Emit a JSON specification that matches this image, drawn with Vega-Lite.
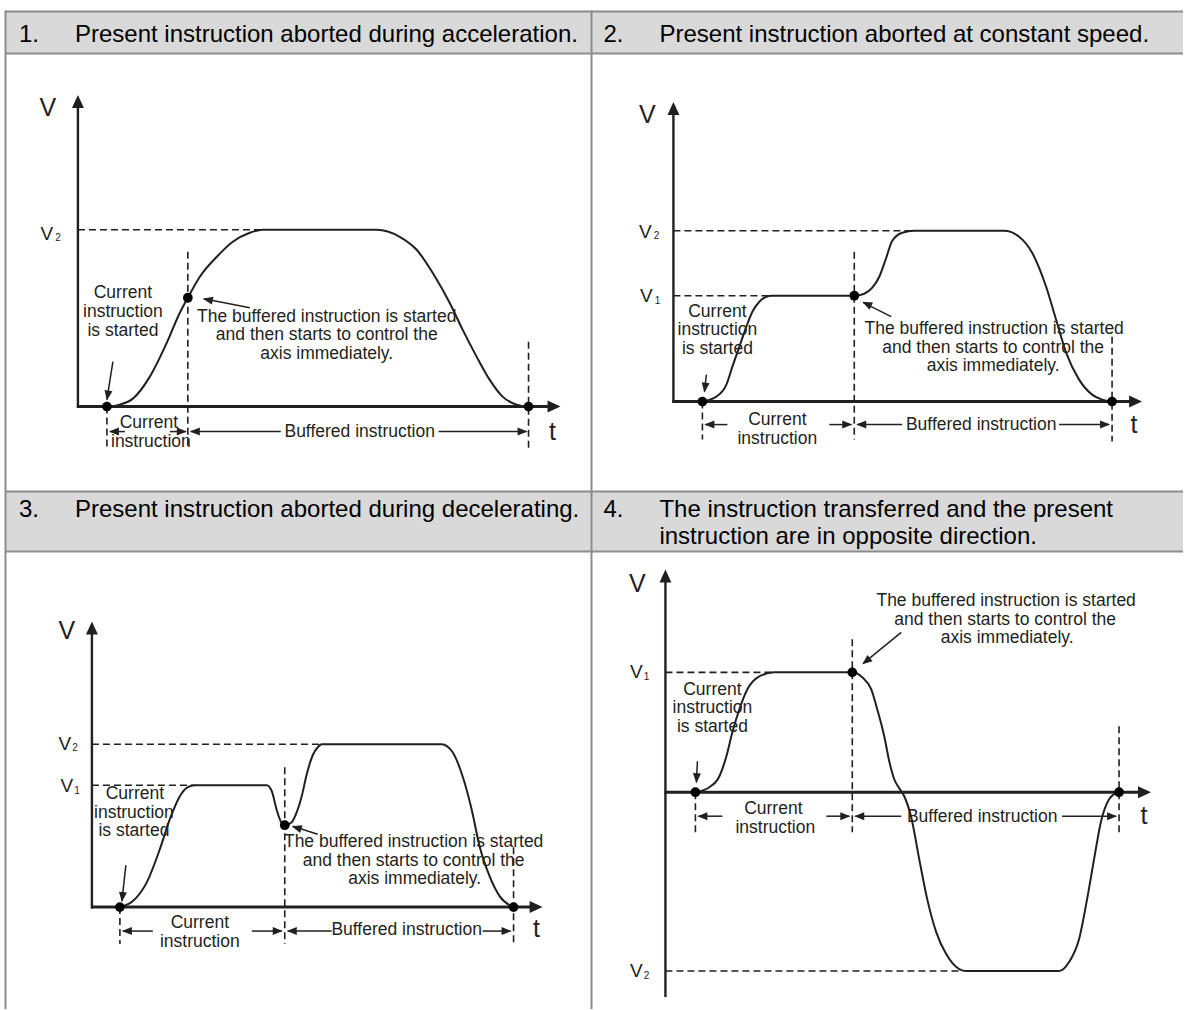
{
  "$schema": "https://vega.github.io/schema/vega-lite/v6.json",
  "width": 1184,
  "height": 1010,
  "autosize": {"type": "fit", "contains": "padding"},
  "padding": 0,
  "background": "white",
  "config": {"view": {"stroke": null}, "axis": {"disable": true}, "legend": {"disable": true}},
  "datasets": {
    "cellFill": [
      {"x": 6, "x2": 592, "y": 11.5, "y2": 53.5},
      {"x": 592, "x2": 1184, "y": 11.5, "y2": 53.5},
      {"x": 6, "x2": 592, "y": 492, "y2": 552},
      {"x": 592, "x2": 1184, "y": 492, "y2": 552}
    ],
    "gridLines": [
      {"x": 5, "x2": 1184, "y": 11.5, "y2": 11.5},
      {"x": 5, "x2": 1184, "y": 53.5, "y2": 53.5},
      {"x": 5, "x2": 1184, "y": 492, "y2": 492},
      {"x": 5, "x2": 1184, "y": 552, "y2": 552},
      {"x": 5.5, "x2": 5.5, "y": 10.5, "y2": 1010},
      {"x": 592, "x2": 592, "y": 10.5, "y2": 1010}
    ],
    "headers": [
      {"x": 19, "y": 42, "label": "1."},
      {"x": 75, "y": 42, "label": "Present instruction aborted during acceleration."},
      {"x": 604, "y": 42, "label": "2."},
      {"x": 660, "y": 42, "label": "Present instruction aborted at constant speed."},
      {"x": 19, "y": 518, "label": "3."},
      {"x": 75, "y": 518, "label": "Present instruction aborted during decelerating."},
      {"x": 604, "y": 518, "label": "4."},
      {"x": 660, "y": 518, "label": "The instruction transferred and the present"},
      {"x": 660, "y": 545, "label": "instruction are in opposite direction."}
    ],
    "dashes": [
      {"x": 78, "x2": 263, "y": 230, "y2": 230},
      {"x": 107, "x2": 107, "y": 407, "y2": 450},
      {"x": 188, "x2": 188, "y": 252, "y2": 450},
      {"x": 529, "x2": 529, "y": 342, "y2": 450},
      {"x": 674, "x2": 915, "y": 231, "y2": 231},
      {"x": 674, "x2": 772, "y": 296, "y2": 296},
      {"x": 703, "x2": 703, "y": 402, "y2": 440},
      {"x": 855, "x2": 855, "y": 252, "y2": 440},
      {"x": 1113, "x2": 1113, "y": 337, "y2": 442},
      {"x": 92, "x2": 322, "y": 745, "y2": 745},
      {"x": 92, "x2": 195, "y": 786, "y2": 786},
      {"x": 120, "x2": 120, "y": 908, "y2": 945},
      {"x": 285, "x2": 285, "y": 768, "y2": 945},
      {"x": 514, "x2": 514, "y": 848, "y2": 945},
      {"x": 666, "x2": 775, "y": 673, "y2": 673},
      {"x": 666, "x2": 960, "y": 972, "y2": 972},
      {"x": 696, "x2": 696, "y": 793, "y2": 833},
      {"x": 853, "x2": 853, "y": 640, "y2": 833},
      {"x": 1120, "x2": 1120, "y": 727, "y2": 833}
    ],
    "vAxes": [
      {"x": 78, "x2": 78, "y": 104, "y2": 408.5},
      {"x": 674, "x2": 674, "y": 111, "y2": 403.5},
      {"x": 92, "x2": 92, "y": 631, "y2": 909.5},
      {"x": 666, "x2": 666, "y": 579, "y2": 998}
    ],
    "tAxes": [
      {"x": 77, "x2": 550, "y": 407, "y2": 407},
      {"x": 673, "x2": 1132, "y": 402, "y2": 402},
      {"x": 91, "x2": 532, "y": 908, "y2": 908},
      {"x": 665, "x2": 1141, "y": 793, "y2": 793}
    ],
    "thin": [
      {"x": 110, "x2": 125, "y": 432, "y2": 432},
      {"x": 170, "x2": 186, "y": 432, "y2": 432},
      {"x": 191, "x2": 281, "y": 432, "y2": 432},
      {"x": 439, "x2": 527, "y": 432, "y2": 432},
      {"x": 113, "x2": 107, "y": 362, "y2": 400},
      {"x": 250, "x2": 204, "y": 308, "y2": 299},
      {"x": 706, "x2": 728, "y": 425, "y2": 425},
      {"x": 830, "x2": 852, "y": 425, "y2": 425},
      {"x": 858, "x2": 903, "y": 425, "y2": 425},
      {"x": 1060, "x2": 1110, "y": 425, "y2": 425},
      {"x": 707, "x2": 705, "y": 375, "y2": 392},
      {"x": 892, "x2": 864, "y": 317, "y2": 303},
      {"x": 123, "x2": 153, "y": 932, "y2": 932},
      {"x": 252, "x2": 282, "y": 932, "y2": 932},
      {"x": 288, "x2": 332, "y": 932, "y2": 932},
      {"x": 483, "x2": 511, "y": 932, "y2": 932},
      {"x": 126, "x2": 122, "y": 866, "y2": 902},
      {"x": 318, "x2": 293, "y": 835, "y2": 827},
      {"x": 699, "x2": 723, "y": 817, "y2": 817},
      {"x": 827, "x2": 850, "y": 817, "y2": 817},
      {"x": 856, "x2": 902, "y": 817, "y2": 817},
      {"x": 1063, "x2": 1117, "y": 817, "y2": 817},
      {"x": 698, "x2": 697, "y": 762, "y2": 783},
      {"x": 902, "x2": 864, "y": 633, "y2": 664}
    ],
    "curves": [
      {"id": "p1", "x": 107, "y": 407}, {"id": "p1", "x": 120, "y": 405}, {"id": "p1", "x": 133, "y": 399},
      {"id": "p1", "x": 150, "y": 377}, {"id": "p1", "x": 167, "y": 343}, {"id": "p1", "x": 180, "y": 313},
      {"id": "p1", "x": 188, "y": 298}, {"id": "p1", "x": 200, "y": 277}, {"id": "p1", "x": 217, "y": 257},
      {"id": "p1", "x": 233, "y": 242}, {"id": "p1", "x": 250, "y": 233}, {"id": "p1", "x": 263, "y": 230},
      {"id": "p1", "x": 377, "y": 230}, {"id": "p1", "x": 400, "y": 237}, {"id": "p1", "x": 417, "y": 250},
      {"id": "p1", "x": 433, "y": 273}, {"id": "p1", "x": 450, "y": 303}, {"id": "p1", "x": 463, "y": 330},
      {"id": "p1", "x": 477, "y": 357}, {"id": "p1", "x": 490, "y": 380}, {"id": "p1", "x": 503, "y": 397},
      {"id": "p1", "x": 517, "y": 405}, {"id": "p1", "x": 529, "y": 407},
      {"id": "p2", "x": 703, "y": 402}, {"id": "p2", "x": 717, "y": 397}, {"id": "p2", "x": 727, "y": 385},
      {"id": "p2", "x": 733, "y": 367}, {"id": "p2", "x": 740, "y": 347}, {"id": "p2", "x": 747, "y": 327},
      {"id": "p2", "x": 753, "y": 312}, {"id": "p2", "x": 760, "y": 302}, {"id": "p2", "x": 767, "y": 297},
      {"id": "p2", "x": 772, "y": 296}, {"id": "p2", "x": 855, "y": 296}, {"id": "p2", "x": 865, "y": 294},
      {"id": "p2", "x": 873, "y": 288}, {"id": "p2", "x": 880, "y": 277}, {"id": "p2", "x": 887, "y": 258},
      {"id": "p2", "x": 893, "y": 241}, {"id": "p2", "x": 903, "y": 233}, {"id": "p2", "x": 915, "y": 231},
      {"id": "p2", "x": 1005, "y": 231}, {"id": "p2", "x": 1020, "y": 237}, {"id": "p2", "x": 1033, "y": 253},
      {"id": "p2", "x": 1047, "y": 287}, {"id": "p2", "x": 1057, "y": 320}, {"id": "p2", "x": 1067, "y": 353},
      {"id": "p2", "x": 1080, "y": 380}, {"id": "p2", "x": 1093, "y": 395}, {"id": "p2", "x": 1103, "y": 400},
      {"id": "p2", "x": 1113, "y": 402},
      {"id": "p3", "x": 120, "y": 908}, {"id": "p3", "x": 133, "y": 902}, {"id": "p3", "x": 147, "y": 883},
      {"id": "p3", "x": 160, "y": 850}, {"id": "p3", "x": 170, "y": 820}, {"id": "p3", "x": 180, "y": 797},
      {"id": "p3", "x": 188, "y": 788}, {"id": "p3", "x": 195, "y": 786}, {"id": "p3", "x": 267, "y": 786},
      {"id": "p3", "x": 272, "y": 792}, {"id": "p3", "x": 277, "y": 811}, {"id": "p3", "x": 282, "y": 824},
      {"id": "p3", "x": 285, "y": 826}, {"id": "p3", "x": 292, "y": 823}, {"id": "p3", "x": 297, "y": 813},
      {"id": "p3", "x": 302, "y": 797}, {"id": "p3", "x": 307, "y": 775}, {"id": "p3", "x": 313, "y": 756},
      {"id": "p3", "x": 318, "y": 748}, {"id": "p3", "x": 322, "y": 745}, {"id": "p3", "x": 442, "y": 745},
      {"id": "p3", "x": 453, "y": 753}, {"id": "p3", "x": 463, "y": 777}, {"id": "p3", "x": 472, "y": 810},
      {"id": "p3", "x": 480, "y": 847}, {"id": "p3", "x": 490, "y": 877}, {"id": "p3", "x": 500, "y": 897},
      {"id": "p3", "x": 514, "y": 908},
      {"id": "p4", "x": 696, "y": 793}, {"id": "p4", "x": 710, "y": 788}, {"id": "p4", "x": 720, "y": 777},
      {"id": "p4", "x": 727, "y": 757}, {"id": "p4", "x": 733, "y": 733}, {"id": "p4", "x": 740, "y": 710},
      {"id": "p4", "x": 748, "y": 690}, {"id": "p4", "x": 760, "y": 677}, {"id": "p4", "x": 775, "y": 673},
      {"id": "p4", "x": 853, "y": 673}, {"id": "p4", "x": 863, "y": 678}, {"id": "p4", "x": 872, "y": 690},
      {"id": "p4", "x": 878, "y": 710}, {"id": "p4", "x": 885, "y": 737}, {"id": "p4", "x": 890, "y": 762},
      {"id": "p4", "x": 895, "y": 780}, {"id": "p4", "x": 900, "y": 789}, {"id": "p4", "x": 905, "y": 797},
      {"id": "p4", "x": 912, "y": 818}, {"id": "p4", "x": 920, "y": 860}, {"id": "p4", "x": 928, "y": 900},
      {"id": "p4", "x": 937, "y": 933}, {"id": "p4", "x": 947, "y": 955}, {"id": "p4", "x": 960, "y": 970},
      {"id": "p4", "x": 967, "y": 972}, {"id": "p4", "x": 1060, "y": 972}, {"id": "p4", "x": 1070, "y": 963},
      {"id": "p4", "x": 1080, "y": 940}, {"id": "p4", "x": 1088, "y": 900}, {"id": "p4", "x": 1095, "y": 860},
      {"id": "p4", "x": 1102, "y": 822}, {"id": "p4", "x": 1110, "y": 800}, {"id": "p4", "x": 1115, "y": 795},
      {"id": "p4", "x": 1120, "y": 793}
    ],
    "dots": [
      {"x": 107, "y": 407}, {"x": 188, "y": 298}, {"x": 529, "y": 407},
      {"x": 703, "y": 402}, {"x": 855, "y": 296}, {"x": 1113, "y": 402},
      {"x": 120, "y": 908}, {"x": 285, "y": 826}, {"x": 514, "y": 908},
      {"x": 696, "y": 793}, {"x": 853, "y": 673}, {"x": 1120, "y": 793}
    ],
    "smallHeads": [
      {"x": 109, "y": 432, "a": 270}, {"x": 187, "y": 432, "a": 90}, {"x": 190, "y": 432, "a": 270}, {"x": 528, "y": 432, "a": 90},
      {"x": 107, "y": 401, "a": 189}, {"x": 203, "y": 299, "a": 281},
      {"x": 705, "y": 425, "a": 270}, {"x": 853, "y": 425, "a": 90}, {"x": 857, "y": 425, "a": 270}, {"x": 1111, "y": 425, "a": 90},
      {"x": 705, "y": 393, "a": 187}, {"x": 863, "y": 302, "a": 296},
      {"x": 122, "y": 932, "a": 270}, {"x": 283, "y": 932, "a": 90}, {"x": 287, "y": 932, "a": 270}, {"x": 512, "y": 932, "a": 90},
      {"x": 122, "y": 903, "a": 186}, {"x": 292, "y": 827, "a": 287},
      {"x": 698, "y": 817, "a": 270}, {"x": 851, "y": 817, "a": 90}, {"x": 855, "y": 817, "a": 270}, {"x": 1118, "y": 817, "a": 90},
      {"x": 697, "y": 784, "a": 183}, {"x": 863, "y": 665, "a": 231}
    ],
    "bigHeads": [
      {"x": 78, "y": 95, "a": 0}, {"x": 561, "y": 407, "a": 90},
      {"x": 674, "y": 102, "a": 0}, {"x": 1143, "y": 402, "a": 90},
      {"x": 92, "y": 622, "a": 0}, {"x": 543, "y": 908, "a": 90},
      {"x": 666, "y": 570, "a": 0}, {"x": 1152, "y": 793, "a": 90}
    ],
    "notes": [
      {"x": 123, "y": 293, "label": "Current"}, {"x": 123, "y": 312, "label": "instruction"}, {"x": 123, "y": 331, "label": "is started"},
      {"x": 327, "y": 317, "label": "The buffered instruction is started"}, {"x": 327, "y": 335.5, "label": "and then starts to control the"}, {"x": 327, "y": 354, "label": "axis immediately."},
      {"x": 149, "y": 423.5, "label": "Current"}, {"x": 151, "y": 442, "label": "instruction"},
      {"x": 360, "y": 432, "label": "Buffered instruction"},
      {"x": 718, "y": 312, "label": "Current"}, {"x": 718, "y": 330.5, "label": "instruction"}, {"x": 718, "y": 349, "label": "is started"},
      {"x": 995, "y": 329.5, "label": "The buffered instruction is started"}, {"x": 994, "y": 348, "label": "and then starts to control the"}, {"x": 994, "y": 366.5, "label": "axis immediately."},
      {"x": 778, "y": 420.5, "label": "Current"}, {"x": 778, "y": 439, "label": "instruction"},
      {"x": 982, "y": 425, "label": "Buffered instruction"},
      {"x": 135, "y": 795, "label": "Current"}, {"x": 134, "y": 813.5, "label": "instruction"}, {"x": 134, "y": 832, "label": "is started"},
      {"x": 414, "y": 843, "label": "The buffered instruction is started"}, {"x": 414, "y": 861.5, "label": "and then starts to control the"}, {"x": 415, "y": 880, "label": "axis  immediately."},
      {"x": 200, "y": 924, "label": "Current"}, {"x": 200, "y": 942.5, "label": "instruction"},
      {"x": 407, "y": 931, "label": "Buffered instruction"},
      {"x": 713, "y": 690.5, "label": "Current"}, {"x": 713, "y": 709, "label": "instruction"}, {"x": 713, "y": 727.5, "label": "is started"},
      {"x": 1007, "y": 602, "label": "The buffered instruction is started"}, {"x": 1006, "y": 620.5, "label": "and then starts to control the"}, {"x": 1008, "y": 639, "label": "axis immediately."},
      {"x": 774, "y": 810, "label": "Current"}, {"x": 776, "y": 829, "label": "instruction"},
      {"x": 983, "y": 818, "label": "Buffered instruction"}
    ],
    "bigLabels": [
      {"x": 48, "y": 108, "label": "V"}, {"x": 553, "y": 432, "label": "t"},
      {"x": 648, "y": 115, "label": "V"}, {"x": 1135, "y": 425, "label": "t"},
      {"x": 67, "y": 632, "label": "V"}, {"x": 537, "y": 930, "label": "t"},
      {"x": 638, "y": 585, "label": "V"}, {"x": 1145, "y": 817, "label": "t"}
    ],
    "levelLabels": [
      {"x": 47, "y": 234, "label": "V"},
      {"x": 646, "y": 232, "label": "V"}, {"x": 647, "y": 296, "label": "V"},
      {"x": 65, "y": 745, "label": "V"}, {"x": 67, "y": 787, "label": "V"},
      {"x": 637, "y": 673, "label": "V"}, {"x": 637, "y": 972, "label": "V"}
    ],
    "levelSubs": [
      {"x": 58, "y": 238, "label": "2"},
      {"x": 657, "y": 236, "label": "2"}, {"x": 658, "y": 301, "label": "1"},
      {"x": 75, "y": 749, "label": "2"}, {"x": 77, "y": 792, "label": "1"},
      {"x": 647, "y": 678, "label": "1"}, {"x": 647, "y": 977, "label": "2"}
    ]
  },
  "encoding": {
    "x": {"field": "x", "type": "quantitative", "scale": {"domain": [0, 1184], "nice": false, "zero": false}, "axis": null},
    "y": {"field": "y", "type": "quantitative", "scale": {"domain": [0, 1010], "nice": false, "zero": false, "reverse": true}, "axis": null}
  },
  "layer": [
    {"data": {"name": "cellFill"}, "mark": {"type": "rect", "fill": "#d9d9d9"}, "encoding": {"x2": {"field": "x2"}, "y2": {"field": "y2"}}},
    {"data": {"name": "gridLines"}, "mark": {"type": "rule", "color": "#8c8c8c", "strokeWidth": 2}, "encoding": {"x2": {"field": "x2"}, "y2": {"field": "y2"}}},
    {"data": {"name": "headers"}, "mark": {"type": "text", "align": "left", "baseline": "alphabetic", "font": "Liberation Sans", "fontSize": 24, "color": "#000000"}, "encoding": {"text": {"field": "label"}}},
    {"data": {"name": "dashes"}, "mark": {"type": "rule", "color": "#231f20", "strokeWidth": 1.6, "strokeDash": [7, 4]}, "encoding": {"x2": {"field": "x2"}, "y2": {"field": "y2"}}},
    {"data": {"name": "vAxes"}, "mark": {"type": "rule", "color": "#231f20", "strokeWidth": 2.4}, "encoding": {"x2": {"field": "x2"}, "y2": {"field": "y2"}}},
    {"data": {"name": "tAxes"}, "mark": {"type": "rule", "color": "#231f20", "strokeWidth": 3}, "encoding": {"x2": {"field": "x2"}, "y2": {"field": "y2"}}},
    {"data": {"name": "thin"}, "mark": {"type": "rule", "color": "#231f20", "strokeWidth": 1.5}, "encoding": {"x2": {"field": "x2"}, "y2": {"field": "y2"}}},
    {"data": {"name": "notes"}, "mark": {"type": "text", "align": "center", "baseline": "middle", "font": "Liberation Sans", "fontSize": 17.5, "color": "#231f20"}, "encoding": {"text": {"field": "label"}}},
    {"data": {"name": "curves"}, "mark": {"type": "line", "color": "#231f20", "strokeWidth": 2, "interpolate": "monotone"}, "encoding": {"detail": {"field": "id"}}},
    {"data": {"name": "dots"}, "mark": {"type": "point", "shape": "circle", "filled": true, "size": 95, "opacity": 1, "color": "#000000"}},
    {"data": {"name": "smallHeads"}, "mark": {"type": "point", "shape": "M0,0L0.4,1L-0.4,1Z", "filled": true, "size": 400, "opacity": 1, "color": "#231f20"}, "encoding": {"angle": {"field": "a", "type": "quantitative", "scale": null}}},
    {"data": {"name": "bigHeads"}, "mark": {"type": "point", "shape": "M0,0L0.46,1L-0.46,1Z", "filled": true, "size": 676, "opacity": 1, "color": "#231f20"}, "encoding": {"angle": {"field": "a", "type": "quantitative", "scale": null}}},
    {"data": {"name": "bigLabels"}, "mark": {"type": "text", "align": "center", "baseline": "middle", "font": "Liberation Sans", "fontSize": 25, "color": "#231f20"}, "encoding": {"text": {"field": "label"}}},
    {"data": {"name": "levelLabels"}, "mark": {"type": "text", "align": "center", "baseline": "middle", "font": "Liberation Sans", "fontSize": 19, "color": "#231f20"}, "encoding": {"text": {"field": "label"}}},
    {"data": {"name": "levelSubs"}, "mark": {"type": "text", "align": "center", "baseline": "middle", "font": "Liberation Sans", "fontSize": 10, "color": "#231f20"}, "encoding": {"text": {"field": "label"}}}
  ]
}
